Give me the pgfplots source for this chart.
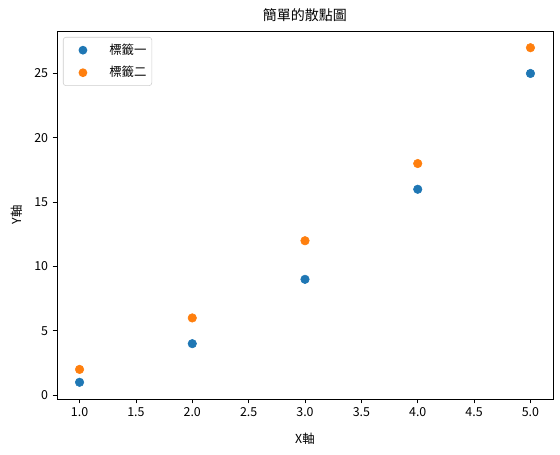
\documentclass[border=0pt]{standalone}
\usepackage{fontspec}
\setmainfont{Noto Sans CJK TC}
\usepackage{pgfplots}
\pgfplotsset{compat=1.18}
\definecolor{c0}{HTML}{1F77B4}
\definecolor{c1}{HTML}{FF7F0E}
\begin{document}
\begin{tikzpicture}[x=1pt,y=1pt]
\path[use as bounding box] (-42.75,-41.25) rectangle (377.25,299.25);
\begin{axis}[
  at={(0,0)}, anchor=south west,
  scale only axis, width=372pt, height=276pt,
  xmin=0.8, xmax=5.2, ymin=-0.3, ymax=28.3,
  xtick={1,1.5,...,5}, ytick={0,5,...,25},
  xticklabel style={/pgf/number format/.cd,fixed,fixed zerofill,precision=1},
  /pgf/number format/assume math mode=true,
  tick align=outside, tick pos=left,
  major tick length=3.2pt,
  tick style={black, line width=0.6pt},
  axis line style={line width=0.6pt},
  tick label style={font=\fontsize{9.3}{11}\selectfont},
  label style={font=\fontsize{9.3}{11}\selectfont},
  xlabel style={yshift=-5pt},
  ylabel style={yshift=2pt},
  title style={font=\fontsize{10.5}{12}\selectfont, yshift=-2.5pt},
  title={簡單的散點圖},
  xlabel={X軸}, ylabel={Y軸},
  legend style={font=\fontsize{9.3}{11}\selectfont, draw=black!20, rounded corners=2pt, inner xsep=2pt, inner ysep=3pt, row sep=3.5pt, at={(4.5pt,271.5pt)}, anchor=north west},
  legend cell align=left,
  legend image code/.code={\path[draw=none,fill=none] (0,0) -- (30.5pt,0); \fill[#1,draw=none] (12.75pt,0) circle (3.3pt);},
]
\addplot[only marks, mark=*, mark size=3.2pt, draw=c0, fill=c0, mark options={draw=c0,fill=c0}] coordinates {(1,1) (2,4) (3,9) (4,16) (5,25)};
\addlegendentry{標籤一}
\addplot[only marks, mark=*, mark size=3.2pt, draw=c1, fill=c1, mark options={draw=c1,fill=c1}] coordinates {(1,2) (2,6) (3,12) (4,18) (5,27)};
\addlegendentry{標籤二}
\end{axis}
\end{tikzpicture}
\end{document}
